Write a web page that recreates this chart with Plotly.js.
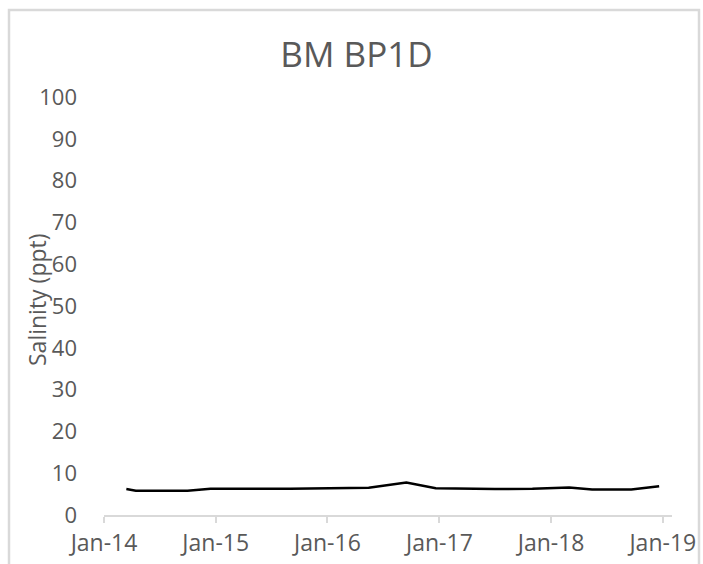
<!DOCTYPE html>
<html>
<head>
<meta charset="utf-8">
<script src="https://cdn.plot.ly/plotly-3.0.1.min.js"></script>
<style>
  html, body { margin: 0; padding: 0; background: #ffffff; }
  #chart { width: 703px; height: 564px; }
</style>
</head>
<body>
<div id="chart"></div>
<script>
const sampleDates = [
  "2014-03-15", "2014-04-15", "2014-10-01", "2014-12-15", "2015-09-01",
  "2016-05-15", "2016-09-15", "2016-12-20", "2017-07-01", "2017-11-01",
  "2018-03-01", "2018-05-15", "2018-09-20", "2018-12-20"
];
const salinity = [6.2, 5.8, 5.8, 6.3, 6.3, 6.5, 7.8, 6.4, 6.2, 6.3, 6.6, 6.1, 6.1, 6.9];
const chartTitle = "BM BP1D";
const yTitle = "Salinity (ppt)";
const xRange = ["2014-01-01", "2019-01-31"];
const yTicks = [0, 10, 20, 30, 40, 50, 60, 70, 80, 90, 100];

const textColor = "#595959";
const fontFam = "'Open Sans', 'Liberation Sans', sans-serif";

const L = 104, R = 31, T = 97, B = 49;
const W = 703, H = 564;
const pw = W - L - R, ph = H - T - B;
const px2x = p => (p - L) / pw;
const px2y = p => (H - B - p) / ph;

const trace = {
  x: sampleDates,
  y: salinity,
  type: "scatter",
  mode: "lines",
  line: { color: "#000000", width: 2.5 },
  hoverinfo: "x+y"
};

const layout = {
  width: W, height: H,
  margin: { l: L, r: R, t: T, b: B, pad: 0 },
  paper_bgcolor: "#ffffff",
  plot_bgcolor: "#ffffff",
  showlegend: false,
  font: { family: fontFam, color: textColor },
  title: {
    text: chartTitle,
    font: { family: fontFam, size: 35, color: textColor },
    xref: "container", x: 356.5 / W, xanchor: "center",
    yref: "container", y: 1 - 55 / H, yanchor: "middle"
  },
  xaxis: {
    type: "date",
    range: xRange,
    tick0: "2014-01-01",
    dtick: "M12",
    tickformat: "%b-%y",
    showgrid: false,
    zeroline: false,
    showline: true,
    linecolor: "#d9d9d9",
    linewidth: 2,
    ticks: "outside",
    ticklen: 6,
    tickwidth: 2,
    tickcolor: "#d9d9d9",
    tickfont: { family: fontFam, size: 23, color: textColor },
    fixedrange: true
  },
  yaxis: {
    range: [0, 100],
    tickvals: yTicks,
    showgrid: false,
    zeroline: false,
    showline: false,
    ticks: "",
    ticklabelstandoff: 26,
    tickfont: { family: fontFam, size: 22, color: textColor },
    fixedrange: true
  },
  annotations: [{
    text: yTitle,
    xref: "paper", yref: "paper",
    x: px2x(37), y: px2y(300),
    xanchor: "center", yanchor: "middle",
    textangle: -90,
    showarrow: false,
    font: { family: fontFam, size: 23, color: textColor }
  }],
  shapes: [
    {
      type: "rect", xref: "paper", yref: "paper", layer: "above",
      x0: px2x(699.5), x1: px2x(703.5), y0: px2y(600), y1: px2y(8),
      fillcolor: "#ffffff", line: { width: 0 }
    },
    {
      type: "rect", xref: "paper", yref: "paper", layer: "above",
      x0: px2x(9), x1: px2x(699), y0: px2y(620), y1: px2y(10),
      fillcolor: "rgba(0,0,0,0)", line: { color: "#d9d9d9", width: 2.5 }
    }
  ]
};

Plotly.newPlot("chart", [trace], layout, { staticPlot: true, displayModeBar: false });
</script>
</body>
</html>
